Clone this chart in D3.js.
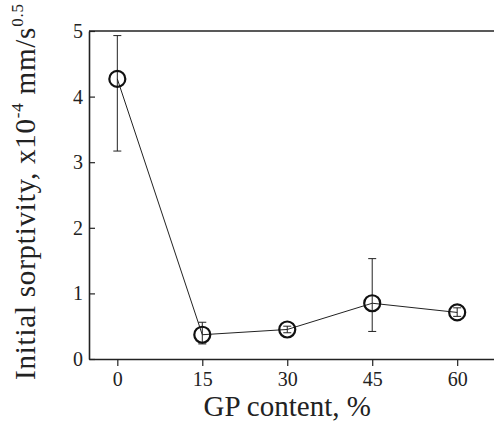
<!DOCTYPE html>
<html>
<head>
<meta charset="utf-8">
<script src="https://cdn.jsdelivr.net/npm/d3@7"></script>
<style>
  body { margin: 0; background: #fff; }
  text { font-family: "Liberation Serif", "DejaVu Serif", serif; fill: #222; }
</style>
</head>
<body>
<svg width="494" height="432"></svg>
<script>
// GP content (%) and initial sorptivity (x10^-4 mm/s^0.5)
var gpContent = [0, 15, 30, 45, 60];
var sorptivity = [4.27, 0.37, 0.45, 0.85, 0.71];
var errLow = [3.17, 0.23, 0.40, 0.42, 0.65];
var errHigh = [4.93, 0.56, 0.50, 1.53, 0.78];
var xTicks = [0, 15, 30, 45, 60];
var yTicks = [0, 1, 2, 3, 4, 5];

var data = gpContent.map(function(d, i) {
  return { gp: d, v: sorptivity[i], lo: errLow[i], hi: errHigh[i] };
});

var svg = d3.select("svg"),
  margin = { top: 31, right: 0, bottom: 73, left: 89 };

var width = 494 - margin.left - margin.right,
  height = 432 - margin.top - margin.bottom;

var g = svg.append("g")
  .attr("transform", "translate(" + margin.left + "," + margin.top + ")");

var x = d3.scaleLinear().domain([-5, 66.5]).range([0, width]);
var y = d3.scaleLinear().domain([0, 5]).range([height, 0]);

// x axis, ticks pointing out
g.append("g")
  .attr("transform", "translate(0," + height + ")")
  .call(d3.axisBottom(x).tickValues(xTicks).tickFormat(d3.format("d"))
    .tickSize(7).tickSizeOuter(0).tickPadding(6));

// y axis, ticks pointing in
g.append("g")
  .call(d3.axisLeft(y).tickValues(yTicks).tickFormat(d3.format("d"))
    .tickSize(-6).tickSizeOuter(0).tickPadding(6));

g.selectAll(".domain").attr("stroke", "#222").attr("stroke-width", 1.6);
g.selectAll(".tick line").attr("stroke", "#222").attr("stroke-width", 1.2);
g.selectAll(".tick text")
  .attr("font-family", "Liberation Serif, serif")
  .attr("font-size", 20)
  .attr("fill", "#222");

// top frame line
g.append("line")
  .attr("x1", 0).attr("x2", width)
  .attr("y1", y(5)).attr("y2", y(5))
  .attr("stroke", "#222").attr("stroke-width", 1.6);

// error bars
var eb = g.selectAll(".err").data(data).enter().append("g").attr("class", "err");
eb.append("line")
  .attr("x1", d => x(d.gp)).attr("x2", d => x(d.gp))
  .attr("y1", d => y(d.lo)).attr("y2", d => y(d.hi))
  .attr("stroke", "#222").attr("stroke-width", 1);
eb.append("line")
  .attr("x1", d => x(d.gp) - 4).attr("x2", d => x(d.gp) + 4)
  .attr("y1", d => y(d.lo)).attr("y2", d => y(d.lo))
  .attr("stroke", "#222").attr("stroke-width", 1);
eb.append("line")
  .attr("x1", d => x(d.gp) - 4).attr("x2", d => x(d.gp) + 4)
  .attr("y1", d => y(d.hi)).attr("y2", d => y(d.hi))
  .attr("stroke", "#222").attr("stroke-width", 1);

// connecting line
var line = d3.line().x(d => x(d.gp)).y(d => y(d.v));
g.append("path")
  .datum(data)
  .attr("d", line)
  .attr("fill", "none")
  .attr("stroke", "#222")
  .attr("stroke-width", 1);

// markers
g.selectAll(".pt").data(data).enter().append("circle")
  .attr("class", "pt")
  .attr("cx", d => x(d.gp)).attr("cy", d => y(d.v))
  .attr("r", 8)
  .attr("fill", "none")
  .attr("stroke", "#111")
  .attr("stroke-width", 2.2);

// axis titles
svg.append("text")
  .attr("x", margin.left + x(30))
  .attr("y", 416)
  .attr("text-anchor", "middle")
  .attr("font-size", 29)
  .text("GP content, %");

var yl = svg.append("text")
  .attr("transform", "translate(35,192) rotate(-90)")
  .attr("text-anchor", "middle")
  .attr("font-size", 29)
  .attr("textLength", 376)
  .attr("lengthAdjust", "spacing");
yl.append("tspan").text("Initial sorptivity, x10");
yl.append("tspan").attr("dy", -12).attr("font-size", 17).text("-4");
yl.append("tspan").attr("dy", 12).text(" mm/s");
yl.append("tspan").attr("dy", -12).attr("font-size", 17).text("0.5");
</script>
</body>
</html>
